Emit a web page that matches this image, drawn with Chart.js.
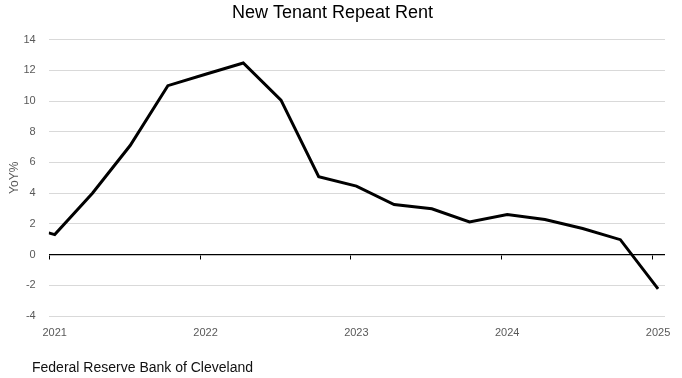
<!DOCTYPE html>
<html>
<head>
<meta charset="utf-8">
<script src="https://cdn.jsdelivr.net/npm/chart.js@4"></script>
<style>
    body { margin: 0; background: #fff; }
    #wrap { position: relative; width: 682px; height: 378px; }
    #footer {
        position: absolute; left: 32px; top: 359px;
        font: 14px "Liberation Sans", Arial, sans-serif; color: #111;
    }
</style>
</head>
<body>
<div id="wrap">
    <canvas id="rentChart" width="682" height="378"></canvas>
    <div id="footer">Federal Reserve Bank of Cleveland</div>
</div>
<script>
// quarterly readings, position in decimal years
const periods = [2021.0, 2021.04, 2021.29, 2021.54, 2021.79, 2022.04, 2022.29, 2022.54, 2022.79,
    2023.04, 2023.29, 2023.54, 2023.79, 2024.04, 2024.29, 2024.54, 2024.79, 2025.04];
const yoy = [1.41, 1.30, 4.0, 7.1, 11.0, 11.74, 12.48, 10.06, 5.07,
    4.46, 3.26, 2.98, 2.13, 2.61, 2.28, 1.7, 0.97, -2.23];
const yearTicks = [2021, 2022, 2023, 2024, 2025];

const gray = "#595959";
const tickFont = { family: "'Liberation Sans', Arial, sans-serif", size: 11 };

// small tick marks hanging off the zero line at each year
const zeroTicks = {
    id: "zeroTicks",
    afterDatasetsDraw(chart) {
        const { ctx, scales: { x, y } } = chart;
        const y0 = Math.round(y.getPixelForValue(0)) + 0.5;
        ctx.save();
        ctx.strokeStyle = "#000";
        ctx.lineWidth = 1;
        ctx.beginPath();
        yearTicks.forEach(v => {
            const px = Math.round(x.getPixelForValue(v)) + 0.5;
            ctx.moveTo(px, y0);
            ctx.lineTo(px, y0 + 4);
        });
        ctx.stroke();
        ctx.restore();
    }
};

const ctx = document.getElementById("rentChart").getContext("2d");
new Chart(ctx, {
    type: "line",
    data: {
        datasets: [{
            label: "New Tenant Repeat Rent",
            data: periods.map((p, i) => ({ x: p, y: yoy[i] })),
            borderColor: "#000",
            borderWidth: 3,
            pointRadius: 0,
            tension: 0,
            fill: false
        }]
    },
    options: {
        responsive: false,
        devicePixelRatio: 1,
        animation: false,
        layout: { padding: { left: 0, right: 17, bottom: 32 } },
        plugins: {
            legend: { display: false },
            tooltip: { enabled: false },
            title: {
                display: true,
                text: "New Tenant Repeat Rent",
                color: "#000",
                font: { family: "'Liberation Sans Narrow', 'Liberation Sans', sans-serif", size: 18, weight: "normal" },
                padding: { top: 2, bottom: 16 }
            }
        },
        scales: {
            x: {
                type: "linear",
                min: 2021,
                max: 2025.086,
                grid: { display: false },
                border: { display: false },
                afterBuildTicks: s => { s.ticks = yearTicks.map(v => ({ value: v })); },
                afterFit: s => { s.height = 30; },
                ticks: {
                    color: gray,
                    font: tickFont,
                    labelOffset: 6,
                    padding: 2,
                    maxRotation: 0,
                    callback: v => String(v)
                }
            },
            y: {
                min: -4,
                max: 14,
                afterFit: s => { s.width = 48.7; },
                border: { display: false },
                grid: {
                    color: ctx => ctx.tick && ctx.tick.value === 0 ? "#000" : "#d9d9d9",
                    lineWidth: ctx => ctx.tick && ctx.tick.value === 0 ? 1.3 : 1,
                    drawTicks: false
                },
                ticks: { stepSize: 2, color: gray, font: tickFont, padding: 13 },
                title: {
                    display: true,
                    text: "YoY%",
                    color: gray,
                    font: { family: "'Liberation Sans', Arial, sans-serif", size: 12 },
                    padding: { top: 7, bottom: 0 }
                }
            }
        }
    },
    plugins: [zeroTicks]
});
</script>
</body>
</html>
